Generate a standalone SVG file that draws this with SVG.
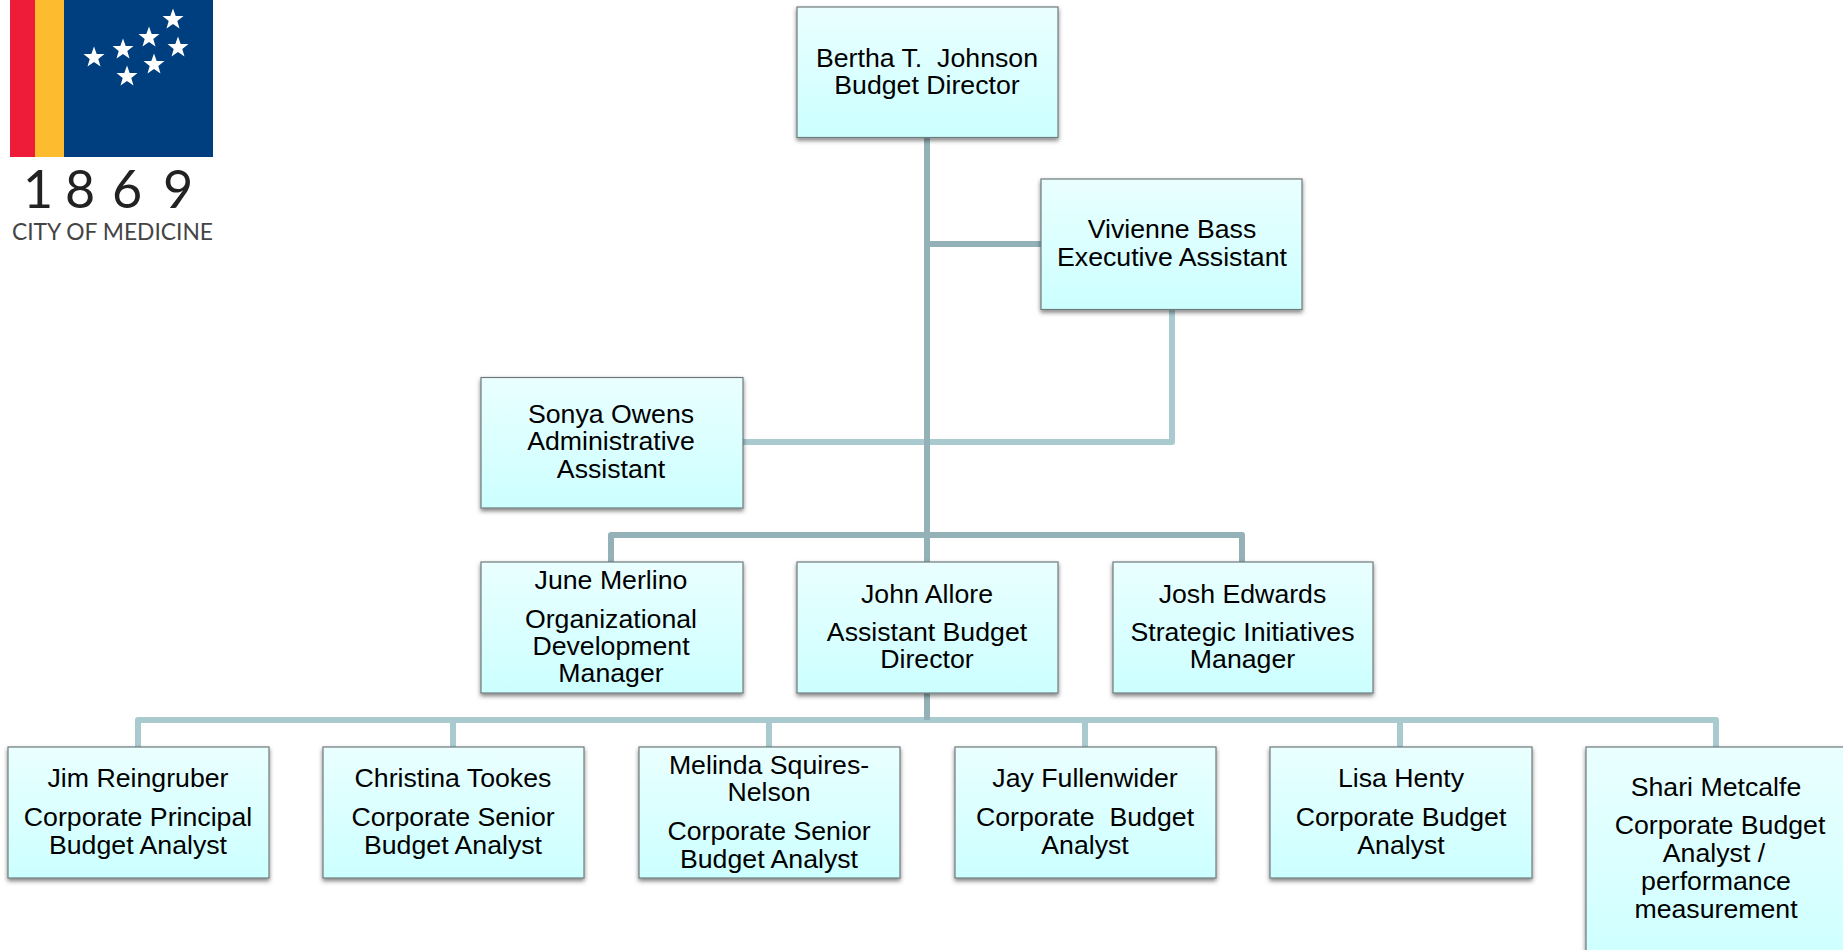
<svg xmlns="http://www.w3.org/2000/svg" width="1843" height="950" viewBox="0 0 1843 950">
<style>
.box{fill:url(#g);stroke:#6f7a7c;stroke-width:1.2;filter:url(#s)}
.t{font-family:"Liberation Sans",Arial,sans-serif;font-size:26.700px;fill:#000;text-anchor:middle;white-space:pre}
.d{fill:none;stroke:#93b1b7;stroke-width:6;stroke-linejoin:round}
.l{fill:none;stroke:#a9cbd0;stroke-width:6;stroke-linejoin:round}
.star{fill:#fff}
</style>
<defs>
<linearGradient id="g" x1="0" y1="0" x2="0" y2="1"><stop offset="0" stop-color="#eaffff"/><stop offset="1" stop-color="#ccffff"/></linearGradient>
<filter id="s" x="-5%" y="-5%" width="110%" height="115%"><feDropShadow dx="0" dy="2.5" stdDeviation="2" flood-color="#000" flood-opacity="0.5"/></filter>
<polygon id="st" points="0,-11 2.7,-3.5 10.5,-3.4 4.3,1.4 6.5,8.9 0,4.4 -6.5,8.9 -4.3,1.4 -10.5,-3.4 -2.7,-3.5"/>
</defs>
<rect width="1843" height="950" fill="#fff"/>
<g id="logo">
<rect x="10" y="0" width="26" height="157" fill="#ee1c39"/>
<rect x="35" y="0" width="29" height="157" fill="#fdbb30"/>
<rect x="64" y="0" width="149" height="157" fill="#003f7f"/>
<g class="star">
<use href="#st" x="94" y="57.500"/><use href="#st" x="123" y="49.500"/><use href="#st" x="149" y="37.500"/><use href="#st" x="173" y="19.500"/><use href="#st" x="178" y="47.500"/><use href="#st" x="154" y="64.500"/><use href="#st" x="127" y="76.500"/>
</g>
<text y="208" x="38 80 127 178" text-anchor="middle" font-family="Lato,sans-serif" font-size="52" fill="#222">1869</text>
<text x="12" y="240" font-family="Lato,sans-serif" font-size="24" fill="#444" textLength="201" lengthAdjust="spacingAndGlyphs">CITY OF MEDICINE</text>
</g>
<g id="connectors">
<path class="l" d="M1172 310V442H743"/>
<path class="l" d="M138 747V720H1716V747M453 720V747M769 720V747M1085 720V747M1400 720V747"/>
<path class="d" d="M927 138V562M927 244H1041M611 562V535H1242V562M927 693V720"/>
</g>
<g id="bertha"><rect class="box" x="797" y="7" width="261" height="130.500"/><text class="t"><tspan x="927" y="67">Bertha T.  Johnson</tspan><tspan x="927" y="93.500">Budget Director</tspan></text></g>
<g id="vivienne"><rect class="box" x="1041" y="179" width="261" height="130.500"/><text class="t"><tspan x="1172" y="238">Vivienne Bass</tspan><tspan x="1172" y="266">Executive Assistant</tspan></text></g>
<g id="sonya"><rect class="box" x="481" y="377.500" width="262" height="130.500"/><text class="t"><tspan x="611" y="422.500">Sonya Owens</tspan><tspan x="611" y="450">Administrative</tspan><tspan x="611" y="477.500">Assistant</tspan></text></g>
<g id="june"><rect class="box" x="481" y="562" width="262" height="131"/><text class="t"><tspan x="611" y="589">June Merlino</tspan><tspan x="611" y="628">Organizational</tspan><tspan x="611" y="654.500">Development</tspan><tspan x="611" y="682">Manager</tspan></text></g>
<g id="john"><rect class="box" x="797" y="562" width="261" height="131"/><text class="t"><tspan x="927" y="602.500">John Allore</tspan><tspan x="927" y="640.500">Assistant Budget</tspan><tspan x="927" y="668">Director</tspan></text></g>
<g id="josh"><rect class="box" x="1113" y="562" width="260" height="131"/><text class="t"><tspan x="1242.500" y="602.500">Josh Edwards</tspan><tspan x="1242.500" y="640.500">Strategic Initiatives</tspan><tspan x="1242.500" y="668">Manager</tspan></text></g>
<g id="jim"><rect class="box" x="8" y="747" width="261" height="131"/><text class="t"><tspan x="138" y="786.500">Jim Reingruber</tspan><tspan x="138" y="825.500">Corporate Principal</tspan><tspan x="138" y="853.500">Budget Analyst</tspan></text></g>
<g id="christina"><rect class="box" x="323" y="747" width="261" height="131"/><text class="t"><tspan x="453" y="786.500">Christina Tookes</tspan><tspan x="453" y="825.500">Corporate Senior</tspan><tspan x="453" y="853.500">Budget Analyst</tspan></text></g>
<g id="melinda"><rect class="box" x="639" y="747" width="261" height="131"/><text class="t"><tspan x="769" y="773.500">Melinda Squires-</tspan><tspan x="769" y="801">Nelson</tspan><tspan x="769" y="840">Corporate Senior</tspan><tspan x="769" y="867.500">Budget Analyst</tspan></text></g>
<g id="jay"><rect class="box" x="955" y="747" width="261" height="131"/><text class="t"><tspan x="1085" y="786.500">Jay Fullenwider</tspan><tspan x="1085" y="825.500">Corporate  Budget</tspan><tspan x="1085" y="853.500">Analyst</tspan></text></g>
<g id="lisa"><rect class="box" x="1270" y="747" width="262" height="131"/><text class="t"><tspan x="1401" y="786.500">Lisa Henty</tspan><tspan x="1401" y="825.500">Corporate Budget</tspan><tspan x="1401" y="853.500">Analyst</tspan></text></g>
<g id="shari"><rect class="box" x="1586" y="747" width="270" height="230"/><text class="t"><tspan x="1716" y="796">Shari Metcalfe</tspan><tspan x="1720" y="834">Corporate Budget</tspan><tspan x="1714" y="862">Analyst /</tspan><tspan x="1716" y="890">performance</tspan><tspan x="1716" y="918">measurement</tspan></text></g>
</svg>
